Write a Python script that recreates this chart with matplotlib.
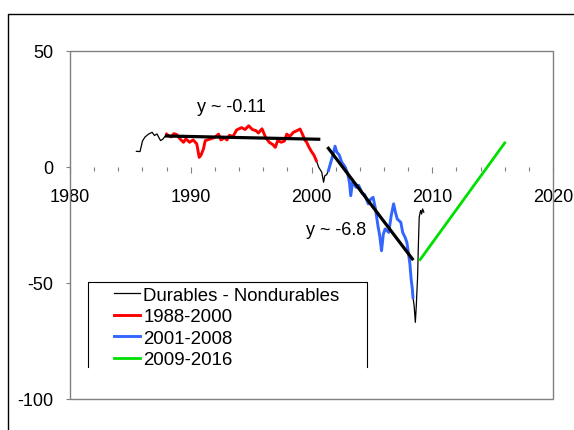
import numpy as np
import matplotlib
matplotlib.use("Agg")
import matplotlib.pyplot as plt
from matplotlib.lines import Line2D
from matplotlib.patches import Rectangle
import matplotlib.ticker as mtick

plt.rcParams['font.family'] = ['Liberation Sans', 'DejaVu Sans']
plt.rcParams['font.size'] = 13
plt.rcParams['axes.unicode_minus'] = False

# Durables - Nondurables spread
years = [1985.5, 1985.8, 1986.0, 1986.2, 1986.5, 1986.8, 1987.0, 1987.2, 1987.5, 1987.7,
         1988.0, 1988.2, 1988.4, 1988.6, 1988.85, 1989.1, 1989.4, 1989.6, 1989.9, 1990.2,
         1990.5, 1990.7, 1990.85, 1991.05, 1991.2, 1991.6, 1992.0, 1992.3, 1992.5, 1992.8,
         1993.0, 1993.2, 1993.5, 1993.8, 1994.2, 1994.5, 1994.8, 1995.1, 1995.4, 1995.6,
         1995.9, 1996.2, 1996.5, 1996.8, 1997.0, 1997.2, 1997.5, 1997.75, 1997.95, 1998.2,
         1998.5, 1998.8, 1999.05, 1999.25, 1999.45, 1999.6, 1999.8, 2000.0, 2000.2, 2000.4,
         2000.6, 2000.85, 2001.0, 2001.1, 2001.25, 2001.4,
         2001.6, 2001.8, 2001.95, 2002.1, 2002.3, 2002.5, 2002.8, 2003.0, 2003.15, 2003.25,
         2003.4, 2003.7, 2003.9, 2004.2, 2004.4, 2004.7, 2004.9, 2005.1, 2005.3, 2005.5,
         2005.65, 2005.8, 2005.95, 2006.1, 2006.4, 2006.6, 2006.8, 2006.95, 2007.1, 2007.4,
         2007.55, 2007.75, 2007.9, 2008.0, 2008.15, 2008.25, 2008.35, 2008.4,
         2008.5, 2008.6, 2008.68, 2008.72, 2008.78, 2008.85, 2008.92, 2009.0, 2009.05, 2009.12,
         2009.2, 2009.3]
spread = [6.6, 6.5, 11.0, 12.7, 14.0, 14.8, 13.4, 14.1, 11.2, 11.9,
          14.0, 13.2, 12.8, 14.2, 13.8, 12.0, 10.5, 12.0, 10.5, 11.5,
          9.8, 4.0, 5.0, 7.6, 11.2, 11.9, 12.6, 14.0, 11.5, 12.5,
          11.5, 13.5, 13.0, 15.8, 16.8, 16.0, 17.6, 16.0, 15.5, 14.5,
          16.3, 12.6, 10.5, 9.5, 8.3, 11.2, 10.5, 11.0, 14.0, 13.0,
          14.8, 15.5, 16.2, 14.0, 11.5, 10.5, 8.3, 6.5, 5.0, 2.6,
          -0.3, -2.4, -6.7, -3.9, -3.5, -1.7,
          1.9, 5.5, 8.8, 6.2, 5.0, 2.0, -0.3, -3.0, -7.0, -12.5,
          -6.7, -8.9, -8.0, -11.5, -12.0, -16.0, -14.0, -13.2, -18.2, -25.4,
          -29.7, -36.2, -29.0, -26.8, -28.3, -21.1, -16.0, -19.6, -22.5, -24.0,
          -28.3, -30.4, -32.6, -36.2, -41.9, -48.3, -52.6, -56.2,
          -59.8, -67.0, -59.8, -54.8, -48.3, -34.0, -21.8, -19.6, -18.9, -20.4,
          -18.2, -19.6]

# highlighted periods
period1 = (1988.0, 2000.4)
period2 = (2001.4, 2008.4)

# trend lines (end points) and their labels
fit1_x = [1988.0, 2000.6]
fit1_y = [13.2, 11.8]
fit2_x = [2001.4, 2008.35]
fit2_y = [7.9, -39.7]
fit1_label = 'y ~ -0.11'
fit2_label = 'y ~ -6.8'

# 2009-2016 path
green_x = [2009.0, 2016.0]
green_y = [-40.0, 10.2]

years = np.array(years)
spread = np.array(spread)
m1 = (years >= period1[0]) & (years <= period1[1])
m2 = (years >= period2[0]) & (years <= period2[1])

fig = plt.figure(figsize=(5.74, 4.31), dpi=100)
ax = fig.add_axes([70 / 574, 1 - 400 / 431, 483 / 574, 348.5 / 431])

# outer chart frame (runs off the right and bottom edges)
fig.add_artist(Line2D([8 / 574, 8 / 574, 1.0], [0.0, 1 - 15 / 431, 1 - 15 / 431],
                      transform=fig.transFigure, color='black', lw=1.0))

ax.plot(years, spread, color='black', lw=0.9, label='Durables - Nondurables', zorder=2)
ax.plot(years[m1], spread[m1], color='#FF0000', lw=2.1, label='1988-2000', zorder=3)
ax.plot(years[m2], spread[m2], color='#3366FF', lw=2.1, label='2001-2008', zorder=3)
ax.plot(green_x, green_y, color='#00E000', lw=2.0, label='2009-2016', zorder=3)
ax.plot(fit1_x, fit1_y, color='black', lw=2.3, zorder=4)
ax.plot(fit2_x, fit2_y, color='black', lw=2.3, zorder=4)

ax.text(1993.4, 25.7, fit1_label, ha='center', va='center')
ax.text(2002.0, -27.2, fit2_label, ha='center', va='center')

ax.set_xlim(1980, 2020)
ax.set_ylim(-100, 50)
ax.xaxis.set_major_locator(mtick.MultipleLocator(10))
ax.xaxis.set_minor_locator(mtick.MultipleLocator(2))
ax.yaxis.set_major_locator(mtick.MultipleLocator(50))

# x axis sits at zero with no visible line, only ticks
for s in ['left', 'right', 'top']:
    ax.spines[s].set_visible(False)
ax.spines['bottom'].set_position(('data', 0))
ax.spines['bottom'].set_color('none')
ax.add_patch(Rectangle((0, 0), 1, 1, transform=ax.transAxes, fill=False,
                       edgecolor='#808080', lw=1.0, zorder=5, clip_on=False))

ax.tick_params(axis='x', which='major', direction='out', length=4.3, width=0.8,
               color='#808080', pad=11)
ax.tick_params(axis='x', which='minor', direction='out', length=2.9, width=0.8,
               color='#808080')
ax.tick_params(axis='y', direction='out', length=3.2, width=0.8, color='#808080', pad=9)

leg = ax.legend(loc='upper left', bbox_to_anchor=(0.0911, 0.322), frameon=False,
                borderpad=0, borderaxespad=0, handlelength=1.4, handletextpad=0.17,
                labelspacing=0.24, fontsize=13.4)

# legend box, open at the bottom like the original
bx0, bx1 = 18 / 483, 297 / 483
by0, by1 = 32 / 348.5, 117 / 348.5
ax.add_artist(Line2D([bx0, bx0, bx1, bx1], [by0, by1, by1, by0], transform=ax.transAxes,
                     color='black', lw=0.8, clip_on=False))

fig.savefig('out.png', dpi=100)
